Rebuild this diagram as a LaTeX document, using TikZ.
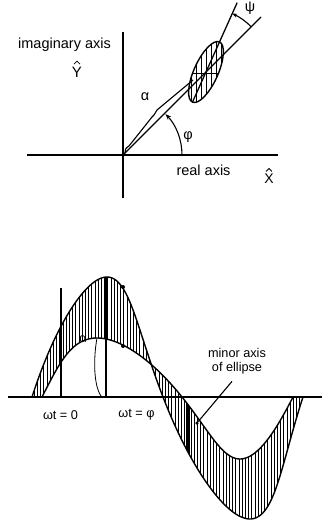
\documentclass[tikz,border=0pt]{standalone}
\usepackage{fontspec}
\setmainfont{Liberation Sans}
\usetikzlibrary{arrows.meta,calc}
\begin{document}
\begin{tikzpicture}[x=1pt,y=-1pt,
  declare function={
    ox(\t)=32+43.13*\t-3.75*sin(deg(\t))-2.25*(1-cos(deg(\t)))+6.625*(1-cos(deg(2*\t)));
    oy(\t)=397-(121-sin(deg(\t)))*sin(deg(\t));
    ix(\t)=42+39.95*\t-8.75*sin(deg(\t))+7.25*(1-cos(deg(\t)))-3.125*(1-cos(deg(2*\t)));
    iy(\t)=397-(60.5-1.5*sin(deg(\t)))*sin(deg(\t));
  },
  ax/.style={line width=1.3pt},
  crv/.style={line width=1.4pt},
  hatchln/.style={line width=0.85pt},
  thin/.style={line width=1.1pt},
  hatmark/.style={line width=0.8pt},
  lbl/.style={font=\fontsize{14.5}{16}\selectfont, inner sep=0pt},
  slbl/.style={font=\fontsize{12.7}{14.5}\selectfont, inner sep=0pt},
  dotc/.style={circle, fill=black, inner sep=0pt, minimum size=4pt}]
\useasboundingbox (0,0) rectangle (322,527);

% ---------------- top: complex plane ----------------
\coordinate (O) at (123,155);
\coordinate (XL) at (27,155);
\coordinate (XR) at (278,155);
\coordinate (YT) at (123,32);
\coordinate (YB) at (123,198);
\draw[ax] (XL) -- (XR);
\draw[ax] (YT) -- (YB);

\coordinate (E) at (206,72);
\coordinate (Mend) at (261,17);
\draw[ax] (O) -- (Mend);
\coordinate (Pbot) at ($(E)+(245.8:33pt)$);
\coordinate (Pend) at ($(E)+(65.8:76pt)$);
\draw[ax] (Pbot) -- (Pend);

% ellipse with hatching
\begin{scope}
  \clip[rotate around={65.8:(E)}] (E) ellipse[x radius=33pt, y radius=12pt];
  \foreach \x in {191,196,...,224} \draw[hatchln] (\x,30) -- (\x,110);
  \draw[hatchln] (180,73) -- (235,73);
\end{scope}
\draw[crv, rotate around={65.8:(E)}] (E) ellipse[x radius=33pt, y radius=12pt];

% sliver
\draw[thin] (125,153) .. controls (124,150) and (126,148) .. (129,146)
  -- (152,117) -- (154,115) -- (157,110) -- (193,80);

% angle arcs
\draw[thin, -{Stealth[length=6pt,width=4.5pt]}] ($(O)+(0:59pt)$) arc[start angle=0, end angle=44, radius=59pt];
\draw[thin, -{Stealth[length=5pt,width=4pt]}] ($(E)+(45:64pt)$) arc[start angle=45, end angle=65.8, radius=64pt];

% labels
\node[lbl] (imag) at (64.5,45) {imaginary axis};
\node[lbl] (real) at (203.5,170) {real axis};
\node[font=\fontsize{15}{16}\selectfont, inner sep=0pt] (yhat) at (77,72) {Y};
\draw[hatmark] ([xshift=-3pt,yshift=2.5pt]yhat.north) -- ([yshift=5.5pt]yhat.north) -- ([xshift=3pt,yshift=2.5pt]yhat.north);
\node[font=\fontsize{14}{16}\selectfont, inner sep=0pt] (xhat) at (269,179) {X};
\draw[hatmark] ([xshift=-3pt,yshift=2.5pt]xhat.north) -- ([yshift=5.5pt]xhat.north) -- ([xshift=3pt,yshift=2.5pt]xhat.north);
\node[lbl] (alphaT) at (145,97) {α};
\node[lbl] (phiT) at (188,137) {φ};
\node[lbl] (psiT) at (250,8) {ψ};

% ---------------- bottom: sine band ----------------
\coordinate (AL) at (8,397);
\coordinate (AR) at (322,397);

\begin{scope}
  \clip plot[domain=0:6.2832, samples=160, variable=\t] ({ox(\t)},{oy(\t)})
     -- plot[domain=6.2832:0, samples=160, variable=\t] ({ix(\t)},{iy(\t)}) -- cycle;
  \foreach \x in {31,34.2,...,306} \draw[hatchln] (\x,270) -- (\x,527);
  \draw[line width=4pt] (105.5,270) -- (105.5,345);
  \draw[line width=2pt] (61,318) -- (61,340);
  \draw[line width=3.5pt] (188,400) -- (188,455);
\end{scope}

\draw[crv] plot[domain=0:6.2832, samples=160, variable=\t] ({ox(\t)},{oy(\t)});
\draw[crv] plot[domain=0:6.2832, samples=160, variable=\t] ({ix(\t)},{iy(\t)});
\draw[ax] (AL) -- (AR);

% vertical markers
\coordinate (W0t) at (61,288);
\coordinate (W0b) at (61,397);
\draw[thin] (W0t) -- (W0b);
\coordinate (WPt) at (106,338);
\coordinate (WPb) at (106,397);
\draw[thin] (WPt) -- (WPb);
\coordinate (Ka) at (97,338);
\coordinate (Kb) at (101,396);
\draw[line width=0.8pt] (Ka) .. controls (93,360) and (94,386) .. (Kb);

% dots
\node[dotc] (d1) at (123,287) {};
\node[dotc] (d2) at (123,346) {};
\node[dotc, minimum size=3.5pt] (MA) at (197,423) {};

% labels
\node[slbl] (alphaB) at (83,339) {α};
\node[slbl] (w0) at (60.5,415) {ωt = 0};
\node[slbl] (wphi) at (136.5,415) {ωt = φ};
\node[slbl, align=center] (minor) at (237,361) {minor axis\\of ellipse};
\draw[thin] ([xshift=-5pt,yshift=-7pt]minor.south) -- (MA);
\end{tikzpicture}
\end{document}
